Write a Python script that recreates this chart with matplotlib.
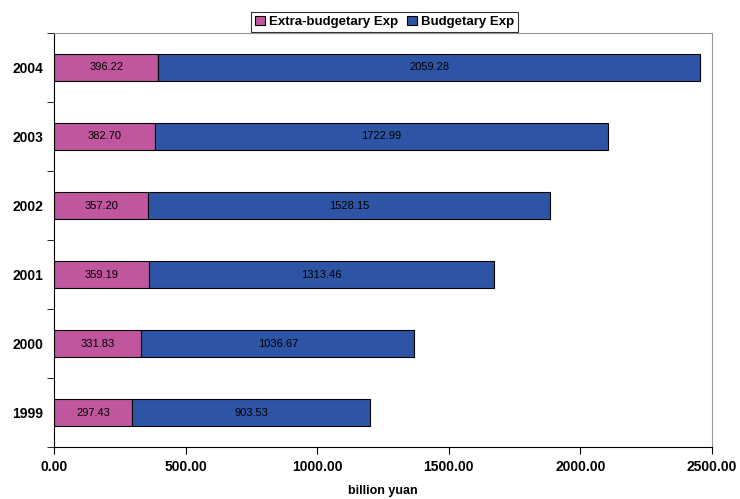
import matplotlib
matplotlib.use("Agg")
import matplotlib.pyplot as plt
import numpy as np

years = ["1999", "2000", "2001", "2002", "2003", "2004"]
extra = [297.43, 331.83, 359.19, 357.20, 382.70, 396.22]
budget = [903.53, 1036.67, 1313.46, 1528.15, 1722.99, 2059.28]

plt.rcParams['font.family'] = ['Liberation Sans', 'DejaVu Sans']

fig = plt.figure(figsize=(7.4, 4.99), dpi=100)
ax = fig.add_axes([0.073, 0.104, 0.889, 0.830])

y = np.arange(len(years))
h = 0.4
b1 = ax.barh(y, extra, height=h, color="#C0579E", edgecolor="black", linewidth=0.8,
             label="Extra-budgetary Exp")
b2 = ax.barh(y, budget, left=extra, height=h, color="#2E55A5", edgecolor="black",
             linewidth=0.8, label="Budgetary Exp")

for rect, v in zip(b1, extra):
    ax.text(rect.get_x() + rect.get_width() / 2, rect.get_y() + h / 2, f"{v:.2f}",
            ha="center", va="center", fontsize=8)
for rect, v in zip(b2, budget):
    ax.text(rect.get_x() + rect.get_width() / 2, rect.get_y() + h / 2, f"{v:.2f}",
            ha="center", va="center", fontsize=8)

ax.set_xlim(0, 2500)
ax.set_ylim(-0.5, len(years) - 0.5)
ax.set_xticks(np.arange(0, 2501, 500))
ax.set_xticklabels([f"{v:.2f}" for v in np.arange(0, 2501, 500)], fontweight="bold", fontsize=10)
ax.set_yticks(y)
ax.set_yticklabels(years, fontweight="bold", fontsize=10)
ax.tick_params(axis="y", length=0, pad=8)
ax.set_yticks(np.arange(-0.5, len(years), 1), minor=True)
ax.tick_params(axis="y", which="minor", length=5, direction="out")
ax.tick_params(axis="x", length=5, direction="out", pad=4)
ax.set_xlabel("billion yuan", fontweight="bold", fontsize=9, labelpad=8)

for s in ["top", "right"]:
    ax.spines[s].set_color("#999999")
ax.spines["left"].set_color("black")
ax.spines["bottom"].set_color("black")

leg = fig.legend(loc="upper center", bbox_to_anchor=(0.52, 0.99), ncol=2, frameon=True,
                 fancybox=False, edgecolor="black", handlelength=0.75,
                 handleheight=0.75, handletextpad=0.3, columnspacing=0.7, borderpad=0.3,
                 prop={"weight": "bold", "size": 9.5})
leg.get_frame().set_linewidth(0.8)

fig.savefig("out.png", dpi=100)
